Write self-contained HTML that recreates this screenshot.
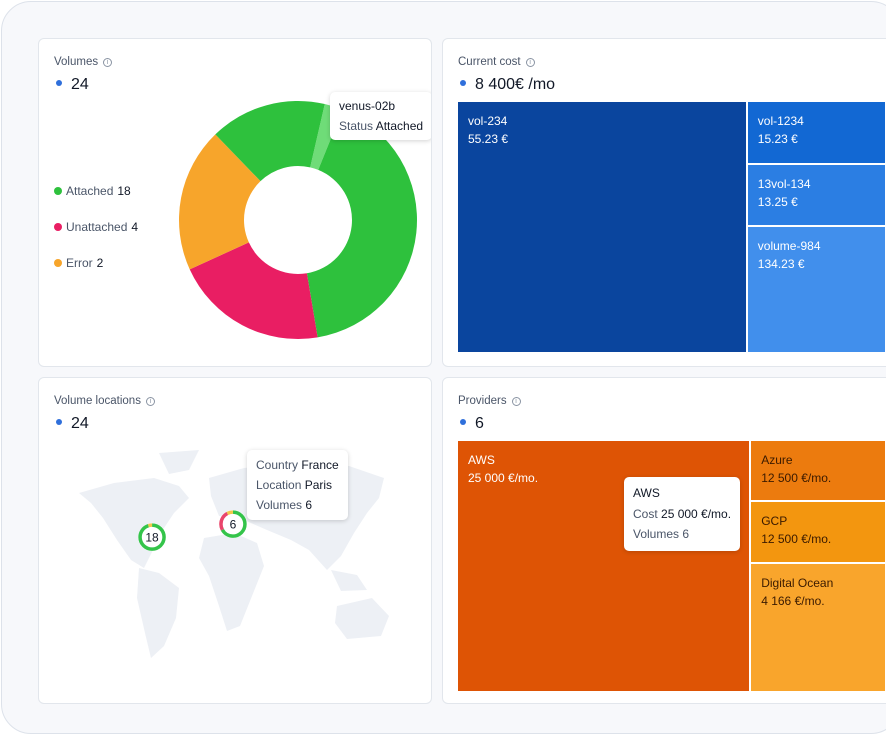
<!DOCTYPE html>
<html><head><meta charset="utf-8"><style>
*{box-sizing:border-box;margin:0;padding:0}
body{width:886px;height:736px;background:#fff;font-family:"Liberation Sans",sans-serif;overflow:hidden;position:relative}
.frame{position:absolute;left:1px;top:1px;width:900px;height:733px;border:1px solid #dde2ea;border-radius:30px;background:#f7f8fb}
.card{position:absolute;background:#fff;border:1px solid #e2e6ec;border-radius:6px;overflow:hidden}
.title{position:absolute;left:15px;top:17px;font-size:11.5px;color:#4a5568}
.info{display:inline-block;width:9px;height:9px;border:1px solid #8a94a3;border-radius:50%;font-size:7px;line-height:7px;text-align:center;color:#8a94a3;margin-left:5px;vertical-align:1px}
.big{position:absolute;left:17px;top:37px;font-size:16px;color:#111827}
.big i{display:inline-block;width:6px;height:6px;border-radius:50%;background:#2f6fdb;margin-right:9px;vertical-align:3px}
.leg{position:absolute;left:15px;font-size:12px;color:#4a5568}
.leg i{display:inline-block;width:8px;height:8px;border-radius:50%;margin-right:4px}
.leg b{font-weight:normal;color:#111827;margin-left:4px}
.tip{position:absolute;background:#fff;border-radius:5px;box-shadow:0 1px 5px rgba(0,0,0,.18);font-size:12px;color:#4a5568;line-height:20px;padding:4px 9px;white-space:nowrap}
.tip b{font-weight:normal;color:#111827}
.tm{position:absolute;color:#fff;font-size:12px;line-height:18px;padding:10px 10px}
</style></head><body>
<div class="frame"></div>

<div class="card" style="left:38px;top:38px;width:394px;height:329px">
 <div class="title">Volumes<span class="info">i</span></div>
 <div class="big"><i></i>24</div>
 <div class="leg" style="top:145px"><i style="background:#2ec13d"></i>Attached<b>18</b></div>
 <div class="leg" style="top:181px"><i style="background:#e91e63"></i>Unattached<b>4</b></div>
 <div class="leg" style="top:217px"><i style="background:#f7a52b"></i>Error<b>2</b></div>
 <svg id="donut" width="394" height="329" style="position:absolute;left:0;top:0"></svg>
 <div class="tip" style="left:291px;top:53px"><b>venus-02b</b><br>Status <b>Attached</b></div>
</div>

<div class="card" style="left:442px;top:38px;width:460px;height:329px">
 <div class="title">Current cost<span class="info">i</span></div>
 <div class="big"><i></i>8 400€ /mo</div>
 <div id="tm1"></div>
</div>

<div class="card" style="left:38px;top:377px;width:394px;height:327px">
 <div class="title">Volume locations<span class="info">i</span></div>
 <div class="big"><i></i>24</div>
 <svg id="map" width="394" height="327" style="position:absolute;left:0;top:0">
  <g fill="#edf0f5">
   <path d="M40 115 L75 105 L115 100 L140 108 L150 120 L135 135 L125 150 L115 170 L105 190 L92 182 L78 162 L64 140 L52 125Z"/>
   <path d="M120 75 L160 72 L150 92 L130 96Z"/>
   <path d="M100 190 L120 195 L140 210 L137 240 L125 268 L112 280 L106 255 L98 220Z"/>
   <path d="M170 100 L205 90 L260 85 L310 88 L345 100 L340 120 L328 135 L315 155 L302 178 L288 192 L270 172 L252 162 L228 152 L205 142 L180 138 L172 118Z"/>
   <path d="M165 160 L195 155 L218 165 L225 188 L213 218 L201 248 L188 253 L180 228 L170 198 L160 180Z"/>
   <path d="M298 228 L333 220 L350 238 L342 258 L308 261 L296 245Z"/>
   <path d="M292 192 L318 197 L328 212 L302 213Z"/>
  </g>
 </svg>
 <svg id="bubbles" width="394" height="327" style="position:absolute;left:0;top:0"></svg>
 <div class="tip" style="left:208px;top:72px;padding:5px 9px">Country <b>France</b><br>Location <b>Paris</b><br>Volumes <b>6</b></div>
</div>

<div class="card" style="left:442px;top:377px;width:460px;height:327px">
 <div class="title">Providers<span class="info">i</span></div>
 <div class="big"><i></i>6</div>
 <div id="tm2"></div>
 <div class="tip" style="left:181px;top:99px;padding:6px 9px;line-height:20.5px"><b>AWS</b><br>Cost <b>25 000 €/mo.</b><br>Volumes 6</div>
</div>

<script>
// Donut data (slice sizes as drawn, clockwise from start angle)
const sliceNames = ["attached-light","attached-main","unattached","error","attached-left"];
const sliceValues = [0.6, 9.9, 5.0, 4.7, 3.8];
const sliceColors = ["#6fdc78","#2ec13d","#e91e63","#f7a52b","#2ec13d"];
// Cost treemap
const costNames = ["vol-234","vol-1234","13vol-134","volume-984"];
const costLabels = ["55.23 €","15.23 €","13.25 €","134.23 €"];
const costWeights = [67.4, 8.15, 8.15, 16.3];
const costColors = ["#0a459e","#1268d3","#2b7ee3","#418fec"];
// Provider treemap
const provNames = ["AWS","Azure","GCP","Digital Ocean"];
const provLabels = ["25 000 €/mo.","12 500 €/mo.","12 500 €/mo.","4 166 €/mo."];
const provWeights = [68.2, 7.8, 7.8, 16.2];
const provColors = ["#de5405","#ec7b0e","#f3960f","#f9a52c"];
const provText = ["#fff","#3a1a00","#3a1a00","#3a1a00"];
// Map bubbles
const bubbleLabels = ["18","6"];
const bubbleLon = [-77, 2.3];
const bubbleLat = [39, 48.8];
const bubbleGreen = [17, 4];
const bubbleRed = [0, 1.5];
const bubbleYellow = [1, 0.5];

const NS="http://www.w3.org/2000/svg";
(function(){
 const svg=document.getElementById('donut');
 const cx=259,cy=181,R=119,r=54;
 const total=sliceValues.reduce((a,b)=>a+b,0);
 let a=13*Math.PI/180;
 const pt=(ang,rad)=>[cx+rad*Math.sin(ang),cy-rad*Math.cos(ang)];
 sliceValues.forEach((v,i)=>{
  const a2=a+v/total*2*Math.PI, lg=(a2-a)>Math.PI?1:0;
  const p1=pt(a,R),p2=pt(a2,R),p3=pt(a2,r),p4=pt(a,r);
  const p=document.createElementNS(NS,'path');
  p.setAttribute('d',`M${p1} A${R} ${R} 0 ${lg} 1 ${p2} L${p3} A${r} ${r} 0 ${lg} 0 ${p4}Z`);
  p.setAttribute('fill',sliceColors[i]);
  
  
  svg.appendChild(p);
  a=a2;
 });
})();
function treemap(id,names,labels,weights,colors,texts,top){
 const host=document.getElementById(id);
 const X=15,Y=top,W=427,H=250;
 const total=weights.reduce((a,b)=>a+b,0);
 const w0=W*weights[0]/total;
 const rest=total-weights[0];
 const rects=[[X,Y,w0,H]];
 let y=Y;
 for(let i=1;i<weights.length;i++){const h=H*weights[i]/rest;rects.push([X+w0+2,y,W-w0-2,h-(i<weights.length-1?2:0)]);y+=h;}
 rects.forEach((r,i)=>{
  const d=document.createElement('div');
  d.className='tm';
  d.style.cssText=`left:${r[0]}px;top:${r[1]}px;width:${r[2]}px;height:${r[3]}px;background:${colors[i]};color:${texts?texts[i]:'#fff'}`;
  d.innerHTML=names[i]+'<br>'+labels[i];
  
  
  host.appendChild(d);
 });
}
treemap('tm1',costNames,costLabels,costWeights,costColors,null,63);
treemap('tm2',provNames,provLabels,provWeights,provColors,provText,63);
(function(){
 const svg=document.getElementById('bubbles');
 const xs=lon=>191.6+lon*1.02, ys=lat=>211-lat*1.33;
 bubbleLabels.forEach((lab,i)=>{
  const cx=xs(bubbleLon[i]),cy=ys(bubbleLat[i]),r=12;
  const g=document.createElementNS(NS,'g');
  
  
  const bg=document.createElementNS(NS,'circle');
  bg.setAttribute('cx',cx);bg.setAttribute('cy',cy);bg.setAttribute('r',r+2);bg.setAttribute('fill','#fff');
  g.appendChild(bg);
  const vals=[bubbleGreen[i],bubbleRed[i],bubbleYellow[i]],cols=["#34c44a","#e9456b","#f1c84b"];
  const tot=vals.reduce((a,b)=>a+b,0);const C=2*Math.PI*r;let off=0;
  vals.forEach((v,k)=>{
   if(!v)return;
   const c=document.createElementNS(NS,'circle');
   c.setAttribute('cx',cx);c.setAttribute('cy',cy);c.setAttribute('r',r);
   c.setAttribute('fill','none');c.setAttribute('stroke',cols[k]);c.setAttribute('stroke-width','3.5');
   c.setAttribute('stroke-dasharray',`${v/tot*C} ${C}`);
   c.setAttribute('stroke-dashoffset',-off);
   c.setAttribute('transform',`rotate(-90 ${cx} ${cy})`);
   off+=v/tot*C;g.appendChild(c);
  });
  const t=document.createElementNS(NS,'text');
  t.setAttribute('x',cx);t.setAttribute('y',cy+4.5);t.setAttribute('text-anchor','middle');
  t.setAttribute('font-size','12');t.setAttribute('fill','#111827');t.setAttribute('font-family','Liberation Sans, sans-serif');
  t.textContent=lab;g.appendChild(t);
  svg.appendChild(g);
 });
})();
</script>
</body></html>
